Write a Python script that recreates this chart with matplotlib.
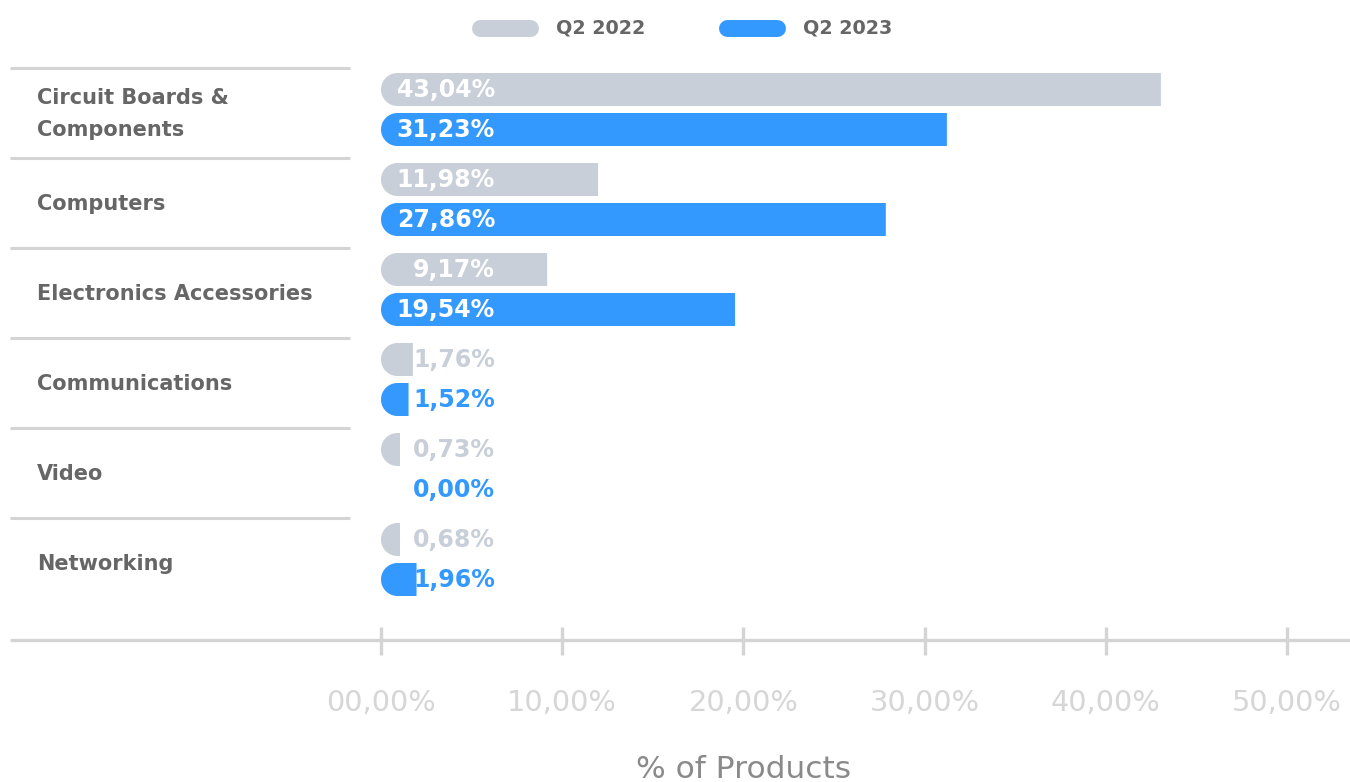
import numpy as np
import matplotlib
matplotlib.use("Agg")
import matplotlib.pyplot as plt
from matplotlib.path import Path
from matplotlib.patches import PathPatch
from matplotlib.lines import Line2D

# data
categories = ["Circuit Boards &\nComponents", "Computers", "Electronics Accessories",
              "Communications", "Video", "Networking"]
q2_2022 = [43.04, 11.98, 9.17, 1.76, 0.73, 0.68]
q2_2023 = [31.23, 27.86, 19.54, 1.52, 0.00, 1.96]
series_names = ["Q2 2022", "Q2 2023"]
xticks = [0, 10, 20, 30, 40, 50]
xtick_labels = ["00,00%", "10,00%", "20,00%", "30,00%", "40,00%", "50,00%"]

GREY = "#C8CFD8"
BLUE = "#3399FF"
TEXT = "#666666"
LINE = "#D4D4D4"
FONT = "DejaVu Sans"

W, H, DPI = 1350, 782, 100
PX_X = 906 / 50          # pixels per percent
PX_Y = 90                # pixels per category row
Y0 = 113                 # pixel row of the first category


def fmt(v):
    return f"{v:.2f}".replace(".", ",") + "%"


def rounded_bar(ax, y, width, height, color):
    # bar with a half-round left end
    rx = (height * PX_Y / 2) / PX_X
    ry = height / 2
    width = max(width, 19 / PX_X)
    t = np.linspace(3 * np.pi / 2, np.pi / 2, 40)
    arc_x = rx + rx * np.cos(t)
    arc_y = y - ry * np.sin(t)
    verts = [(width, y - ry), (width, y + ry)] + list(zip(arc_x, arc_y)) + [(width, y - ry)]
    codes = [Path.MOVETO] + [Path.LINETO] * (len(verts) - 2) + [Path.CLOSEPOLY]
    ax.add_patch(PathPatch(Path(verts, codes), facecolor=color, edgecolor="none"))


fig = plt.figure(figsize=(W / DPI, H / DPI), dpi=DPI)
ax = fig.add_axes([0, 0, 1, 1])
ax.set_xlim(-381 / PX_X, (W - 381) / PX_X)
ax.set_ylim((H - Y0) / PX_Y, -Y0 / PX_Y)
ax.axis("off")

bar_h = 33 / PX_Y
off_a = -23.5 / PX_Y
off_b = 16.5 / PX_Y
label_x = (495 - 381) / PX_X

for i, (cat, a, b) in enumerate(zip(categories, q2_2022, q2_2023)):
    # separator line above each category
    ax.plot([-371 / PX_X, -31 / PX_X], [i - 0.5, i - 0.5], color=LINE, lw=2.2,
            solid_capstyle="butt")
    ax.text(-344 / PX_X, i + 0.01, cat, ha="left", va="center", fontsize=15,
            color=TEXT, fontweight="bold", family=FONT, linespacing=1.75)

    for val, off, col in ((a, off_a, GREY), (b, off_b, BLUE)):
        yy = i + off
        if val > 0:
            rounded_bar(ax, yy, val, bar_h, col)
        inside = val * PX_X > (495 - 381) + 5
        ax.text(label_x, yy + 0.01, fmt(val), ha="right", va="center", fontsize=17,
                fontweight="bold", family=FONT, color="white" if inside else col)

# x axis line and ticks
ax.plot([-371 / PX_X, (W - 381) / PX_X], [(640 - Y0) / PX_Y] * 2, color=LINE, lw=2.4,
        solid_capstyle="butt")
ax.vlines(xticks, (627 - Y0) / PX_Y, (655 - Y0) / PX_Y, color=LINE, lw=2.4)
for x, lab in zip(xticks, xtick_labels):
    ax.text(x, (703 - Y0) / PX_Y, lab, ha="center", va="center", fontsize=20.8,
            color="#D6D6D6", family=FONT)
ax.text(20, (770 - Y0) / PX_Y, "% of Products", ha="center", va="center", fontsize=22.5,
        color="#8A8A8A", family=FONT)

# legend
for (x1, x2, tx), col, name in zip(((480, 530, 556), (727, 777, 803)), (GREY, BLUE),
                                   series_names):
    fy = 1 - 28 / H
    fig.add_artist(Line2D([x1 / W, x2 / W], [fy, fy], color=col, lw=12.2,
                          solid_capstyle="round", transform=fig.transFigure))
    fig.text(tx / W, fy, name, ha="left", va="center", fontsize=13.8, color=TEXT,
             fontweight="bold", family=FONT)

fig.savefig("out.png", dpi=DPI)
